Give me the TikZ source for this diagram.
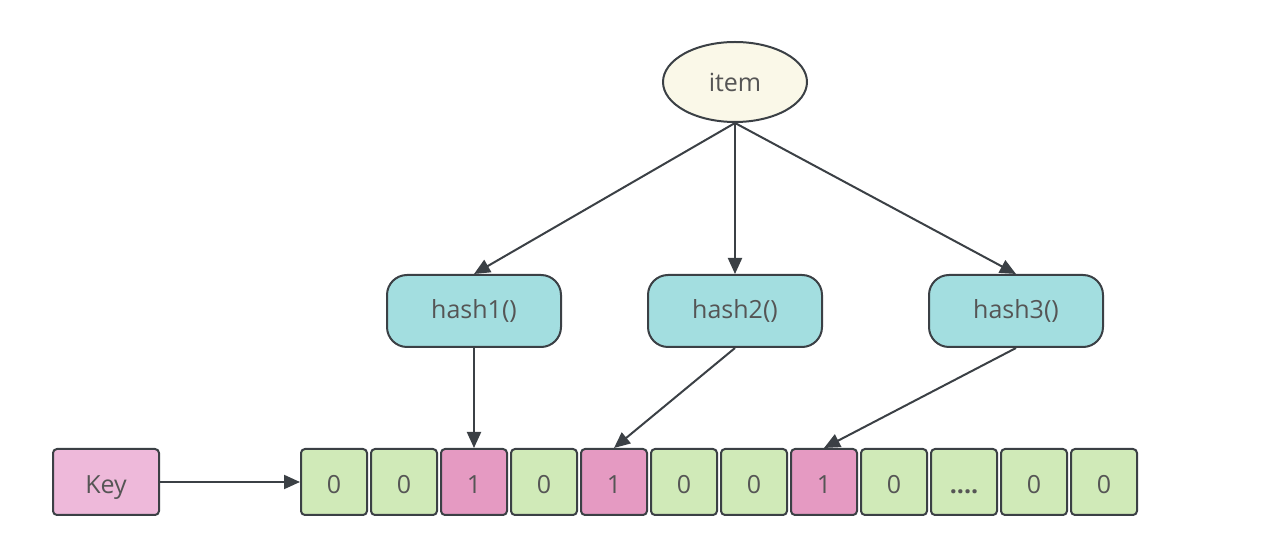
\documentclass[tikz,border=0pt]{standalone}
\usepackage{fontspec}
\setmainfont{Open Sans}
\usepackage{tikz}
\usetikzlibrary{shapes.geometric, arrows.meta, positioning}

\definecolor{linegray}{HTML}{3B4045}
\definecolor{textgray}{HTML}{555555}
\definecolor{itemfill}{HTML}{FAF8E8}
\definecolor{hashfill}{HTML}{A3DEE0}
\definecolor{zerofill}{HTML}{D0EAB8}
\definecolor{onefill}{HTML}{E59AC2}
\definecolor{keyfill}{HTML}{EEB9DA}

\begin{document}
\begin{tikzpicture}[x=1pt, y=1pt,
        item oval/.style = {draw=linegray, ellipse, line width=1pt, fill=itemfill, minimum width=72pt, minimum height=40pt, font=\fontsize{12.5}{14}\selectfont, text=textgray},
        hash box/.style = {draw=linegray, rounded corners=10pt, line width=1pt, fill=hashfill, minimum width=87pt, minimum height=36pt, font=\fontsize{12.5}{14}\selectfont, text=textgray},
        cell/.style = {draw=linegray, rounded corners=2pt, line width=1pt, minimum width=33pt, minimum height=33pt, inner sep=0pt, text height=12pt, text depth=0pt, font=\fontsize{12.5}{14}\selectfont, text=textgray},
        zero cell/.style = {cell, fill=zerofill},
        one cell/.style = {cell, fill=onefill},
        key box/.style = {cell, fill=keyfill, minimum width=53pt},
        arrow/.style = {-{Triangle[length=8pt, width=7pt]}, line width=1pt, draw=linegray}
    ]
    \useasboundingbox (0,0) rectangle (635,-275);

    % Nodes
    \node (item) [item oval] at (367.5,-41) {item};
    \node (hash2) [hash box, below=75.5pt of item] {hash2()};
    \node (hash1) [hash box, left=42.5pt of hash2] {hash1()};
    \node (hash3) [hash box, right=52.5pt of hash2] {hash3()};

    \newcommand{\celldots}{\textbf{....}}
    \foreach \v/\s [count=\i] in {0/zero,0/zero,1/one,0/zero,1/one,0/zero,0/zero,1/one,0/zero,\celldots/zero,0/zero,0/zero}
        \node (c\i) [\s\space cell] at ({167+35*(\i-1)},-241) {\v};

    \node (key) [key box] at (53,-241) {Key};

    % Arrows
    \draw[arrow] (item.south) -- (hash1.north);
    \draw[arrow] (item.south) -- (hash2.north);
    \draw[arrow] (item.south) -- (hash3.north);
    \draw[arrow] (hash1.south) -- (c3.north);
    \draw[arrow] (hash2.south) -- (c5.north);
    \draw[arrow] (hash3.south) -- (c8.north);
    \draw[arrow] (key) -- (c1);

\end{tikzpicture}
\end{document}
